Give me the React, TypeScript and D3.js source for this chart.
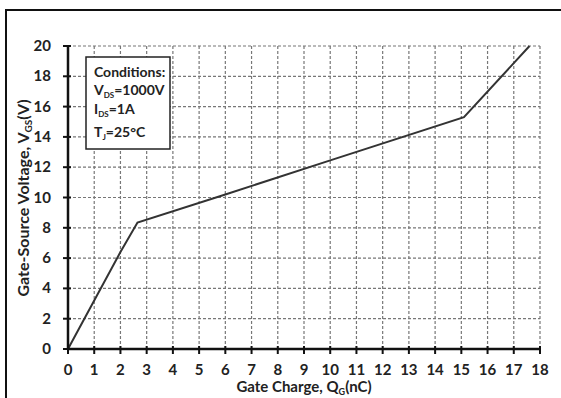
import React from 'react';
import * as d3 from 'd3';

// gate charge curve (nC, V)
const qg = [0, 1, 2, 2.65, 6, 10, 15.1, 17.6];
const vgs = [0, 3.2, 6.4, 8.35, 10.2, 12.45, 15.3, 20];

const xTicks = d3.range(0, 19, 1);
const yTicks = d3.range(0, 21, 2);

const conditions = [
  { main: 'V', sub: 'DS', rest: '=1000V' },
  { main: 'I', sub: 'DS', rest: '=1A' },
  { main: 'T', sub: 'J', rest: '=25°C' },
];

const W = 561;
const H = 398;
const FONT = 'Lato, "Open Sans", sans-serif';

export default function App() {
  const x = d3.scaleLinear().domain([0, 18]).range([68, 540]);
  const y = d3.scaleLinear().domain([0, 20]).range([349, 46]);
  const pts = qg.map((q, i) => [q, vgs[i]] as [number, number]);
  const line = d3.line<[number, number]>().x(d => x(d[0])).y(d => y(d[1]));

  return (
    <svg
      width={W}
      height={H}
      style={{ position: 'absolute', left: 0, top: 0, background: '#fff', fontFamily: FONT }}
    >
      {/* outer frame, runs off the right and bottom edges */}
      <rect x={6} y={10} width={W + 10} height={H + 10} fill="none" stroke="#111" strokeWidth={2} />

      {/* grid */}
      {xTicks.filter(t => t > 0).map(t => (
        <line key={'gx' + t} x1={x(t)} x2={x(t)} y1={y(0)} y2={y(20)}
          stroke="#777" strokeWidth={1.2} strokeDasharray="3,2" />
      ))}
      {yTicks.filter(t => t > 0).map(t => (
        <line key={'gy' + t} x1={x(0)} x2={x(18)} y1={y(t)} y2={y(t)}
          stroke="#777" strokeWidth={1.2} strokeDasharray="3,2" />
      ))}

      {/* conditions box */}
      <rect x={86} y={57} width={84} height={92} fill="#fff" stroke="#222" strokeWidth={1.5} />
      <text x={94} y={77} fontSize={14} fontWeight="bold" fill="#222">Conditions:</text>
      {conditions.map((c, i) => (
        <text key={c.main + i} x={94} y={[95, 114, 137][i]} fontSize={14} fontWeight="bold" fill="#222">
          {c.main}
          <tspan fontSize={8} dy={3}>{c.sub}</tspan>
          <tspan dy={-3}>{c.rest}</tspan>
        </text>
      ))}

      {/* curve */}
      <path d={line(pts) || ''} fill="none" stroke="#333" strokeWidth={2} />

      {/* axes */}
      <line x1={x(0)} x2={x(0)} y1={y(0)} y2={y(20)} stroke="#111" strokeWidth={2.5} />
      <line x1={x(0)} x2={x(18)} y1={y(0)} y2={y(0)} stroke="#111" strokeWidth={2.5} />
      {yTicks.map(t => (
        <g key={'yt' + t}>
          <line x1={x(0) - 5} x2={x(0) + 3} y1={y(t)} y2={y(t)} stroke="#111" strokeWidth={2} />
          <text x={51} y={y(t) + 5} textAnchor="end" fontSize={15} fontWeight="bold" fill="#222">{t}</text>
        </g>
      ))}
      {xTicks.map(t => (
        <g key={'xt' + t}>
          <line x1={x(t)} x2={x(t)} y1={y(0) - 3} y2={y(0) + 5} stroke="#111" strokeWidth={2} />
          <text x={x(t)} y={375} textAnchor="middle" fontSize={15} fontWeight="bold" fill="#222">{t}</text>
        </g>
      ))}

      {/* axis titles */}
      <text x={304} y={392} textAnchor="middle" fontSize={15} fontWeight="bold" fill="#222">
        Gate Charge, Q<tspan fontSize={9} dy={3}>G</tspan><tspan dy={-3}>(nC)</tspan>
      </text>
      <text transform="translate(29,198) rotate(-90)" textAnchor="middle" fontSize={16} fontWeight="bold" fill="#222">
        Gate-Source Voltage, V<tspan fontSize={10} dy={3}>GS</tspan><tspan dy={-3}>(V)</tspan>
      </text>
    </svg>
  );
}
